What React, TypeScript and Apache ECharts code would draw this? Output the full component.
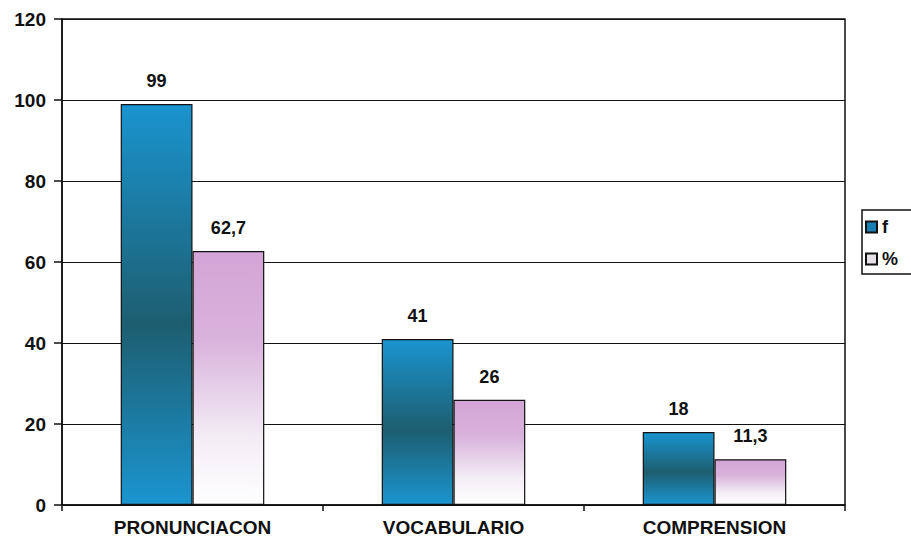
import React, { useEffect, useRef } from "react";
import * as echarts from "echarts";

const categories = ["PRONUNCIACON", "VOCABULARIO", "COMPRENSION"];
const fValues = [99, 41, 18];
const pctValues = [62.7, 26, 11.3];
const seriesNames = ["f", "%"];
const yTicks = { min: 0, max: 120, interval: 20 };

const FONT = "'Liberation Sans', Arial, sans-serif";

export default function App() {
  const ref = useRef<HTMLDivElement>(null);
  useEffect(() => {
    if (!ref.current) return;
    const chart = echarts.init(ref.current, undefined, { renderer: "svg" });
    const fGrad = new echarts.graphic.LinearGradient(0, 0, 0, 1, [
      { offset: 0, color: "#1a94cf" },
      { offset: 0.55, color: "#1d5e70" },
      { offset: 1, color: "#1b95d0" },
    ]);
    const pGrad = new echarts.graphic.LinearGradient(0, 0, 0, 1, [
      { offset: 0, color: "#d3a4d6" },
      { offset: 0.35, color: "#d9b3dc" },
      { offset: 0.75, color: "#f4eef6" },
      { offset: 1, color: "#ffffff" },
    ]);
    const labelFmt = (p: any) => String(p.value).replace(".", ",");
    const labelStyle = { show: true, position: "top", distance: 14, formatter: labelFmt, fontFamily: FONT, fontWeight: "bold", fontSize: 18, color: "#111" };
    chart.setOption({
      animation: false,
      backgroundColor: "#ffffff",
      textStyle: { fontFamily: FONT },
      grid: { left: 62, right: 66, top: 19, bottom: 41, show: true, borderColor: "#111", borderWidth: 1.5 },
      legend: {
        orient: "vertical",
        left: 862,
        top: 210,
        data: [
          { name: seriesNames[0], itemStyle: { color: "#1a7fb0" } },
          { name: seriesNames[1], itemStyle: { color: "#e6e2e8" } },
        ],
        icon: "rect",
        itemWidth: 11,
        itemHeight: 11,
        itemGap: 14,
        padding: [8, 30, 6, 3],
        borderColor: "#111",
        borderWidth: 1.5,
        textStyle: { fontFamily: FONT, fontWeight: "bold", fontSize: 18, color: "#111", padding: [0, 0, 0, 0] },
      },
      xAxis: {
        type: "category",
        data: categories,
        axisLine: { lineStyle: { color: "#111", width: 1.5 } },
        axisTick: { show: true, length: 6, inside: false, lineStyle: { color: "#111", width: 1.5 } },
        axisLabel: { fontFamily: FONT, fontWeight: "bold", fontSize: 19, color: "#111", margin: 13 },
      },
      yAxis: {
        type: "value",
        min: yTicks.min,
        max: yTicks.max,
        interval: yTicks.interval,
        axisLine: { show: true, lineStyle: { color: "#111", width: 1.5 } },
        axisTick: { show: true, length: 8, lineStyle: { color: "#111", width: 1.5 } },
        axisLabel: { fontFamily: FONT, fontWeight: "bold", fontSize: 19, color: "#111", margin: 16 },
        splitLine: { show: true, lineStyle: { color: "#111", width: 1.2 } },
      },
      series: [
        {
          name: seriesNames[0],
          type: "bar",
          data: fValues,
          barGap: "0%",
          barCategoryGap: "45%",
          itemStyle: { color: fGrad, borderColor: "#111", borderWidth: 1.2 },
          label: labelStyle,
        },
        {
          name: seriesNames[1],
          type: "bar",
          data: pctValues,
          itemStyle: { color: pGrad, borderColor: "#111", borderWidth: 1.2 },
          label: labelStyle,
        },
      ],
    });
    return () => chart.dispose();
  }, []);
  return <div ref={ref} style={{ width: 911, height: 546, position: "absolute", left: 0, top: 0 }} />;
}
